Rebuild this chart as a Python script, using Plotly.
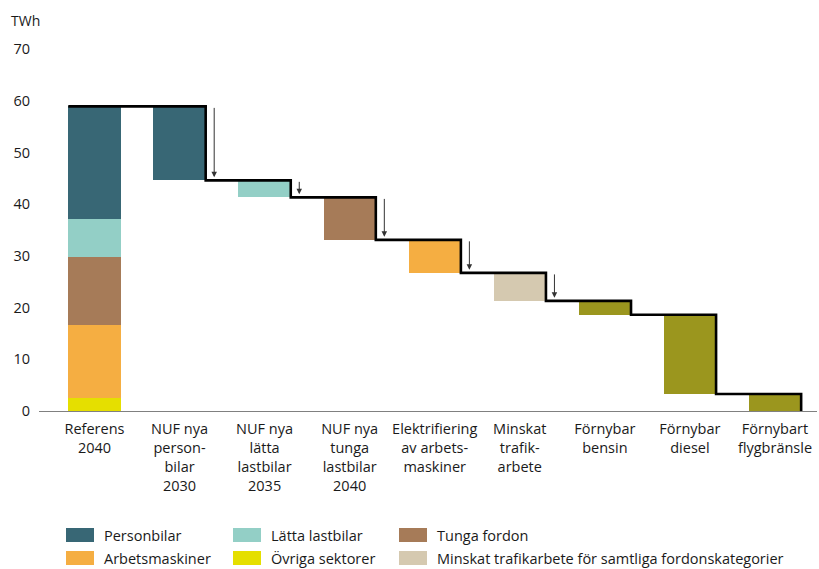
import plotly.graph_objects as go

# ---------------- data ----------------
categories = [
    "Referens<br>2040",
    "NUF nya<br>person-<br>bilar<br>2030",
    "NUF nya<br>lätta<br>lastbilar<br>2035",
    "NUF nya<br>tunga<br>lastbilar<br>2040",
    "Elektrifiering<br>av arbets-<br>maskiner",
    "Minskat<br>trafik-<br>arbete",
    "Förnybar<br>bensin",
    "Förnybar<br>diesel",
    "Förnybart<br>flygbränsle",
]

# Reference 2040 stack (bottom -> top), TWh
sectors = ["Övriga sektorer", "Arbetsmaskiner", "Tunga fordon", "Lätta lastbilar", "Personbilar"]
reference_2040 = [2.6, 14.0, 13.1, 7.4, 21.8]

# Reductions for each following step, TWh
reductions = [14.3, 3.3, 8.2, 6.4, 5.4, 2.7, 15.3, 3.3]
reduction_groups = ["Personbilar", "Lätta lastbilar", "Tunga fordon", "Arbetsmaskiner",
                    "Minskat trafikarbete för samtliga fordonskategorier",
                    "Förnybart", "Förnybart", "Förnybart"]
arrow_steps = 5  # first five steps carry an arrow

legend_names = ["Personbilar", "Lätta lastbilar", "Tunga fordon",
                "Arbetsmaskiner", "Övriga sektorer",
                "Minskat trafikarbete för samtliga fordonskategorier"]

y_ticks = [0, 10, 20, 30, 40, 50, 60, 70]

colors = {
    "Personbilar": "#386775",
    "Lätta lastbilar": "#93cfc6",
    "Tunga fordon": "#a67b58",
    "Arbetsmaskiner": "#f5ae42",
    "Övriga sektorer": "#e5df00",
    "Minskat trafikarbete för samtliga fordonskategorier": "#d5c9b0",
    "Förnybart": "#9b961e",
}

# ---------------- layout helpers ----------------
W, H = 819, 569
L, R, T, B = 39, 2, 49, 158
PW, PH = W - L - R, H - T - B
BAR_W = 0.615
FONT = "Open Sans"
TXT = "#1a1a1a"


def px_x(p):
    return (p - L) / PW


def px_y(p):
    return (H - B - p) / PH


fig = go.Figure()

# stacked reference bar
base = 0.0
for name, val in zip(sectors, reference_2040):
    fig.add_trace(go.Bar(x=[0], y=[val], base=[base], width=BAR_W,
                         marker=dict(color=colors[name], line=dict(width=0)),
                         name=name, showlegend=False))
    base += val
total = base

# waterfall steps
levels_after = []
lvl = total
for r in reductions:
    lvl -= r
    levels_after.append(max(lvl, 0))
levels_before = [total] + levels_after[:-1]
step_x = list(range(1, len(reductions) + 1))

fig.add_trace(go.Bar(x=step_x, y=reductions, base=levels_after, width=BAR_W,
                     marker=dict(color=[colors[g] for g in reduction_groups], line=dict(width=0)),
                     showlegend=False))

# step line
line_x = [-BAR_W / 2] + [i + BAR_W / 2 for i in step_x]
line_y = [total] + levels_after
fig.add_trace(go.Scatter(x=line_x, y=line_y, mode="lines", line_shape="hv",
                         line=dict(color="black", width=2.6), showlegend=False,
                         hoverinfo="skip"))

annotations = []
# arrows
for k in range(arrow_steps):
    xa = step_x[k] + BAR_W / 2 + 0.1
    annotations.append(dict(x=xa, y=levels_after[k] + 0.6, ax=xa, ay=levels_before[k],
                            xref="x", yref="y", axref="x", ayref="y",
                            showarrow=True, arrowhead=2, arrowsize=1.1, arrowwidth=1,
                            arrowcolor="#333333", text=""))

# unit label
annotations.append(dict(x=px_x(9), y=px_y(20), xref="paper", yref="paper",
                        xanchor="left", yanchor="middle", showarrow=False,
                        text="TWh", font=dict(family=FONT, size=14, color=TXT)))

# custom legend
shapes = []
col_x = [66, 233, 399]
row_y = [535, 558]
for idx, name in enumerate(legend_names):
    r, c = divmod(idx, 3)
    x0 = col_x[c]
    yc = row_y[r]
    shapes.append(dict(type="rect", xref="paper", yref="paper",
                       x0=px_x(x0), x1=px_x(x0 + 28), y0=px_y(yc - 7), y1=px_y(yc + 7),
                       fillcolor=colors[name], line=dict(width=0)))
    annotations.append(dict(x=px_x(x0 + 36), y=px_y(yc), xref="paper", yref="paper",
                            xanchor="left", yanchor="middle", showarrow=False,
                            text=name, font=dict(family=FONT, size=14.5, color=TXT)))

fig.update_layout(
    width=W, height=H,
    margin=dict(l=L, r=R, t=T, b=B, pad=0),
    paper_bgcolor="white", plot_bgcolor="white",
    barmode="overlay", bargap=0,
    font=dict(family=FONT, size=14.5, color=TXT),
    showlegend=False,
    annotations=annotations,
    shapes=shapes,
    xaxis=dict(range=[-0.652, 8.494], tickvals=list(range(len(categories))),
               ticktext=categories, showgrid=False, zeroline=False,
               showline=True, linecolor="#808080", linewidth=1, ticks="",
               ticklabelstandoff=5,
               tickfont=dict(family=FONT, size=14.5, color=TXT), fixedrange=True),
    yaxis=dict(range=[0, 70], tickvals=y_ticks, showgrid=False, zeroline=False,
               showline=False, ticks="", ticklabelstandoff=8,
               tickfont=dict(family=FONT, size=14.5, color=TXT), fixedrange=True),
)

fig.write_html("out.html", config={"displayModeBar": False},
               post_script="document.body.style.margin='0px';document.body.style.overflow='hidden';")
